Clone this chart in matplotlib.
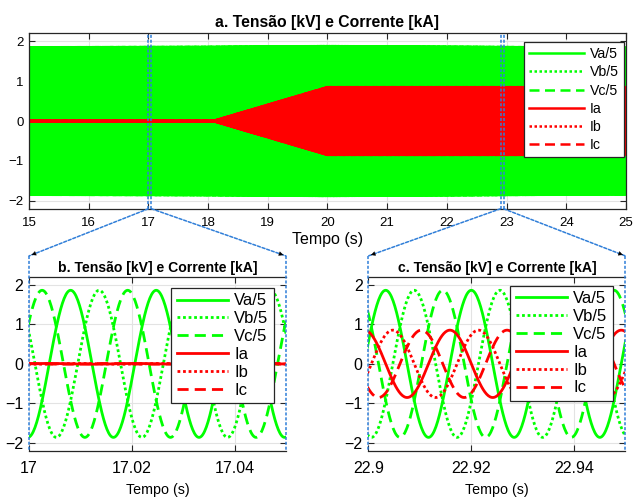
import numpy as np
import matplotlib
matplotlib.use('Agg')
import matplotlib.pyplot as plt
from matplotlib.lines import Line2D
from matplotlib.patches import ConnectionPatch, FancyArrowPatch

plt.rcParams['font.family'] = ['Liberation Sans', 'DejaVu Sans']

# --- signal parameters ---
freq_hz = 60.048          # fundamental
va_peak_time = 17.0081    # a crest of Va (s)
current_lead_deg = 90     # Ia leads Va
phase_deg = [0, -120, 120]  # a, b, c

# amplitude envelopes (time knots, amplitude)
v_env_t = [15, 18, 20, 25]
v_env_amp = [1.85, 1.86, 1.88, 1.84]
i_env_t = [15, 18.1, 20, 25]
i_env_amp = [0.01, 0.01, 0.85, 0.85]

v_labels = ['Va/5', 'Vb/5', 'Vc/5']
i_labels = ['Ia', 'Ib', 'Ic']
styles = ['-', (0, (1, 1)), (0, (4, 2.2))]

zoom_b = [17, 17.05]
zoom_c = [22.9, 22.95]
xticks_b = [17, 17.02, 17.04]
xticks_c = [22.9, 22.92, 22.94]
xtick_labels_b = ['17', '17.02', '17.04']
xtick_labels_c = ['22.9', '22.92', '22.94']
yticks = [-2, -1, 0, 1, 2]

fs = 6000
t = np.arange(15, 25 + 1 / fs, 1 / fs)
w = 2 * np.pi * freq_hz
v_amp = np.interp(t, v_env_t, v_env_amp)
i_amp = np.interp(t, i_env_t, i_env_amp)
volts = [v_amp * np.cos(w * (t - va_peak_time) + np.deg2rad(p)) for p in phase_deg]
amps = [i_amp * np.cos(w * (t - va_peak_time) + np.deg2rad(p + current_lead_deg)) for p in phase_deg]

GREEN = '#00ff00'
RED = '#ff0000'
BLUE = '#2f7ed8'
AXC = '#262626'

fig = plt.figure(figsize=(6.33, 4.97), dpi=100)
ax_top = fig.add_axes([0.0458, 0.580, 0.943, 0.353])
ax_b = fig.add_axes([0.0458, 0.0926, 0.406, 0.3507])
ax_c = fig.add_axes([0.5818, 0.0926, 0.4063, 0.3507])


def style_axes(ax, tick_size):
    ax.set_ylim(-2.2, 2.2)
    ax.set_yticks(yticks)
    ax.grid(True, color='#e3e3e3', linewidth=0.8)
    ax.set_axisbelow(True)
    ax.tick_params(direction='in', top=True, right=True, length=4, width=0.8,
                   colors=AXC, labelcolor='black', labelsize=tick_size, pad=4)
    for s in ax.spines.values():
        s.set_color(AXC)
        s.set_linewidth(0.9)


def draw_series(ax, lw):
    for v, ls, lab in zip(volts, styles, v_labels):
        ax.plot(t, v, color=GREEN, linestyle=ls, linewidth=lw, label=lab)
    for i, ls, lab in zip(amps, styles, i_labels):
        ax.plot(t, i, color=RED, linestyle=ls, linewidth=lw, label=lab)


# --- a. full window ---
draw_series(ax_top, 1.8)
ax_top.set_xlim(15, 25)
ax_top.set_xticks(range(15, 26))
style_axes(ax_top, 9.5)
ax_top.tick_params(axis='x', pad=6)
ax_top.set_title('a. Tensão [kV] e Corrente [kA]', fontsize=11.3, fontweight='bold', pad=4.5)
ax_top.set_xlabel('Tempo (s)', fontsize=11.5, labelpad=2)
leg = ax_top.legend(loc='upper right', bbox_to_anchor=(0.997, 0.95), borderaxespad=0,
                    fontsize=10.2, handlelength=3.9, handletextpad=0.4, labelspacing=0.3,
                    borderpad=0.35, fancybox=False, framealpha=1, edgecolor=AXC)
leg.get_frame().set_linewidth(0.9)

# --- b. and c. zoomed windows ---
for ax, lims, ticks, labs, letter, anchor in [
        (ax_b, zoom_b, xticks_b, xtick_labels_b, 'b', (0.953, 0.935)),
        (ax_c, zoom_c, xticks_c, xtick_labels_c, 'c', (0.951, 0.947))]:
    draw_series(ax, 2.0)
    ax.set_xlim(*lims)
    ax.set_xticks(ticks)
    ax.set_xticklabels(labs)
    style_axes(ax, 11.5)
    ax.tick_params(axis='x', pad=7.5)
    ax.set_title(f'{letter}. Tensão [kV] e Corrente [kA]', fontsize=10.1, fontweight='bold', pad=3.3)
    ax.set_xlabel('Tempo (s)', fontsize=10.3, labelpad=5)
    lg = ax.legend(loc='upper right', bbox_to_anchor=anchor, borderaxespad=0,
                   fontsize=12, handlelength=3.1, handletextpad=0.35, labelspacing=0.17,
                   borderpad=0.32, fancybox=False, framealpha=1, edgecolor=AXC)
    lg.get_frame().set_linewidth(0.9)
    ax.spines['left'].set_visible(False)
    ax.spines['right'].set_visible(False)

# --- zoom markers and connectors ---
dot = (0, (2, 1.2))
arrow_y = 0.485
for ax, lims in [(ax_b, zoom_b), (ax_c, zoom_c)]:
    for x in lims:
        ax_top.axvline(x, color=BLUE, linestyle=dot, linewidth=1.1, zorder=5)
    pos = ax.get_position()
    for x_data, x_fig in [(lims[0], pos.x0), (lims[1], pos.x1)]:
        con = ConnectionPatch(xyA=(x_data, -2.2), coordsA=ax_top.transData,
                              xyB=(x_fig, arrow_y), coordsB=fig.transFigure,
                              color=BLUE, linestyle=dot, linewidth=1.1)
        fig.add_artist(con)
        fig.add_artist(Line2D([x_fig, x_fig], [arrow_y, pos.y0], transform=fig.transFigure,
                              color=BLUE, linestyle=dot, linewidth=1.1, zorder=6))
        # small black head at the end of the connector
        start = fig.transFigure.inverted().transform(ax_top.transData.transform((x_data, -2.2)))
        d = np.array([x_fig, arrow_y]) - start
        d = d / np.hypot(d[0] * 633, d[1] * 497)
        tail = (x_fig - d[0] * 6, arrow_y - d[1] * 6)
        fig.add_artist(FancyArrowPatch(tail, (x_fig, arrow_y), transform=fig.transFigure,
                                       arrowstyle='-|>', mutation_scale=7,
                                       color='black', linewidth=0.3))

fig.savefig('out.png', dpi=100)
